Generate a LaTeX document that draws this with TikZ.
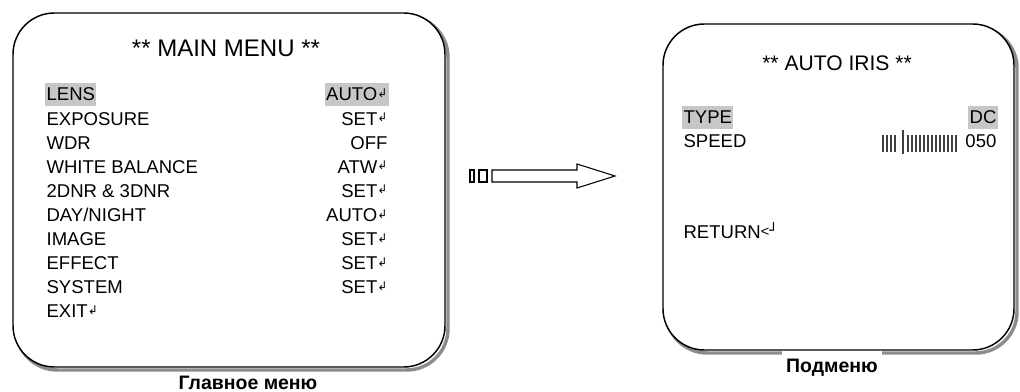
\documentclass[tikz,border=0pt]{standalone}
\usepackage{fontspec}
\setmainfont{Liberation Sans}
\newfontfamily\symfont{DejaVu Sans}
\newcommand{\ret}{{\symfont\fontsize{9}{9}\selectfont\raisebox{2.6pt}{↲}}}
\newcommand{\retb}{{\fontsize{11}{11}\selectfont\raisebox{1pt}{<}}{\symfont\fontsize{10.5}{10.5}\selectfont\raisebox{2.2pt}{┘}}}

\tikzset{
  item/.style={anchor=base west, inner xsep=1pt, inner ysep=3.8pt, font=\fontsize{13.9}{16}\selectfont},
  value/.style={item, anchor=base east},
  sel/.style={fill=black!22},
  heading/.style={anchor=base, font=\fontsize{15.8}{18}\selectfont},
  caption/.style={anchor=base, fill=white, text height=11pt, text depth=0pt, inner xsep=3pt, inner ysep=5pt, font=\bfseries\fontsize{14.6}{17}\selectfont},
  screen/.style={draw=black, fill=white, line width=1.1pt, rounded corners=31pt},
  shade/.style={draw=black!45, line width=2.6pt, rounded corners=31pt},
  tick/.style={black!75, line width=1.1pt}
}

\begin{document}
\begin{tikzpicture}[x=0.75pt,y=-0.75pt]
			\useasboundingbox (0,0) rectangle (1020,392);
			\draw[shade] (16,16) rectangle (448,370);
			\draw[screen] (13,13) rectangle (445,367);
			\draw[shade] (666,27) rectangle (1017,353);
			\draw[screen] (663,24) rectangle (1014,350);
			\node[heading, font=\fontsize{18}{20}\selectfont] (maintitle) at (226,57) {** MAIN MENU **};
			\node[item,sel] (lens) at (45,101) {LENS};
			\node[value,sel] (lensval) at (389,101) {AUTO\ret};
			\node[item] (exposure) at (45,125.1) {EXPOSURE};
			\node[value] (exposureval) at (389,125.1) {SET\ret};
			\node[item] (wdr) at (45,149.2) {WDR};
			\node[value] (wdrval) at (389,149.2) {OFF};
			\node[item] (balance) at (45,173.3) {WHITE BALANCE};
			\node[value] (balanceval) at (389,173.3) {ATW\ret};
			\node[item] (dnr) at (45,197.4) {2DNR \& 3DNR};
			\node[value] (dnrval) at (389,197.4) {SET\ret};
			\node[item] (daynight) at (45,221.5) {DAY/NIGHT};
			\node[value] (daynightval) at (389,221.5) {AUTO\ret};
			\node[item] (image) at (45,245.6) {IMAGE};
			\node[value] (imageval) at (389,245.6) {SET\ret};
			\node[item] (effect) at (45,269.7) {EFFECT};
			\node[value] (effectval) at (389,269.7) {SET\ret};
			\node[item] (system) at (45,293.8) {SYSTEM};
			\node[value] (systemval) at (389,293.8) {SET\ret};
			\node[item] (exit) at (45,317.9) {EXIT\ret};
			\node[caption, inner ysep=1pt] (maincap) at (248,389.5) {Главное меню};
			\draw[line width=0.8pt] (470,170) rectangle (474,182);
			\draw[line width=0.8pt] (479,170) rectangle (487,182);
			\draw[line width=0.8pt] (492,170) -- (577,170) -- (577,164) -- (615,176) -- (577,188) -- (577,182) -- (492,182) -- cycle;
			\node[heading] (subtitle) at (837,71) {** AUTO IRIS **};
			\node[item,sel] (type) at (682,124) {TYPE};
			\node[value,sel] (typeval) at (998,124) {DC};
			\node[item] (speed) at (682,148) {SPEED};
			\node[value] (speedval) at (998,148) {050};
			\foreach \x in {883,887,891,895} \draw[tick] (\x,135) -- (\x,152);
			\draw[tick] (903,130) -- (903,154);
			\foreach \x in {908,912,...,956} \draw[tick] (\x,135) -- (\x,152);
			\node[item] (return) at (682,238) {RETURN\retb};
			\node[caption] (subcap) at (832,372) {Подменю};
		\end{tikzpicture}
\end{document}
